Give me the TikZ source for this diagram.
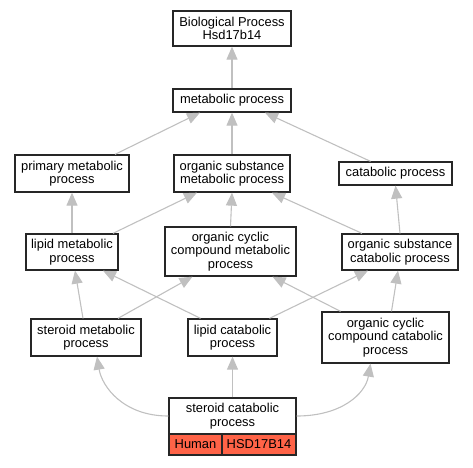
\documentclass[tikz,border=0pt]{standalone}
\usepackage{fontspec}
\setmainfont{Liberation Sans}
\usetikzlibrary{arrows.meta}
\definecolor{tomato}{RGB}{255,99,71}
\definecolor{edgegray}{RGB}{192,192,192}

\begin{document}
\begin{tikzpicture}[x=1pt, y=-1pt,
  term/.style={draw=black!85, line width=1.3pt, fill=white, align=center, inner sep=1pt,
    font=\fontsize{12.9pt}{13.4pt}\selectfont},
  gene/.style={term, fill=tomato},
  isa/.style={draw=edgegray, line width=1.1pt, -{Triangle[length=13pt, width=11pt]}}]
\useasboundingbox (0,0) rectangle (473,467);
\node [term, minimum width=118pt, minimum height=35pt] (bp) at (232,28.5) {Biological Process\\Hsd17b14};
\node [term, minimum width=118pt, minimum height=23pt] (met) at (232,100.5) {metabolic process};
\node [term, minimum width=114pt, minimum height=37pt] (prim) at (72,173.5) {primary metabolic\\process};
\node [term, minimum width=116pt, minimum height=37pt] (osm) at (232,173.5) {organic substance\\metabolic process};
\node [term, minimum width=113pt, minimum height=23pt] (cat) at (395.5,173.5) {catabolic process};
\node [term, minimum width=92pt, minimum height=36pt] (lipm) at (72,252) {lipid metabolic\\process};
\node [term, minimum width=131pt, minimum height=49pt] (occm) at (230.5,251.5) {organic cyclic\\compound metabolic\\process};
\node [term, minimum width=116pt, minimum height=36pt] (osc) at (400,252) {organic substance\\catabolic process};
\node [term, minimum width=110pt, minimum height=37pt] (sterm) at (86,337.5) {steroid metabolic\\process};
\node [term, minimum width=89pt, minimum height=37pt] (lipc) at (232.5,337.5) {lipid catabolic\\process};
\node [term, minimum width=127pt, minimum height=51pt] (occc) at (385.5,337.5) {organic cyclic\\compound catabolic\\process};
\node [term, minimum width=127pt, minimum height=36pt] (sterc) at (232.5,416) {steroid catabolic\\process};
\node [gene, minimum width=53pt, minimum height=21pt] (human) at (195.5,444.5) {Human};
\node [gene, minimum width=74pt, minimum height=21pt] (hsd) at (259,444.5) {HSD17B14};

\draw [isa] (met.north) -- (bp.south);
\draw [isa] ([xshift=43pt]prim.north) -- ([xshift=-32pt]met.south);
\draw [isa] (osm.north) -- (met.south);
\draw [isa] ([xshift=-25pt]cat.north) -- ([xshift=33pt]met.south);
\draw [isa] (lipm.north) -- (prim.south);
\draw [isa] ([xshift=41pt]lipm.north) -- ([xshift=-35pt]osm.south);
\draw [isa] (occm.north) -- (osm.south);
\draw [isa] ([xshift=-38pt]osc.north) -- ([xshift=40pt]osm.south);
\draw [isa] (osc.north) -- (cat.south);
\draw [isa] ([xshift=-3pt]sterm.north) -- ([xshift=3pt]lipm.south);
\draw [isa] ([xshift=32pt]sterm.north) -- ([xshift=-38pt]occm.south);
\draw [isa] ([xshift=-32pt]lipc.north) -- ([xshift=31pt]lipm.south);
\draw [isa] ([xshift=37pt]lipc.north) -- ([xshift=-32pt]osc.south);
\draw [isa] ([xshift=-45pt]occc.north) -- ([xshift=42pt]occm.south);
\draw [isa] ([xshift=6pt]occc.north) -- ([xshift=-2pt]osc.south);
\draw [isa] (sterc.west) .. controls +(-45,0) and +(5,30) .. ([xshift=11pt]sterm.south);
\draw [isa] (sterc.north) -- (lipc.south);
\draw [isa] (sterc.east) .. controls +(45,0) and +(-5,30) .. ([xshift=-15pt]occc.south);
\end{tikzpicture}
\end{document}
